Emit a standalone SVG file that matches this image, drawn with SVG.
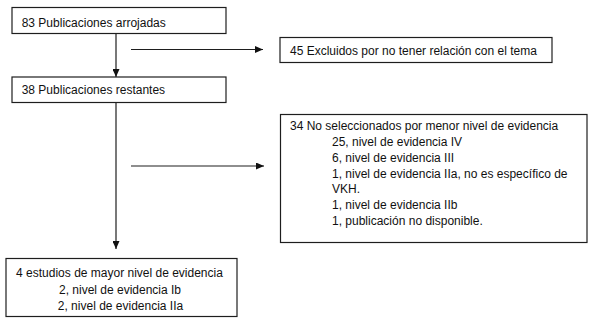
<svg xmlns="http://www.w3.org/2000/svg" width="600" height="324" viewBox="0 0 600 324">
<style>
.box{fill:#fff;stroke:#1e1e1e;stroke-width:1.2}
.t{font-family:"Liberation Sans",Arial,sans-serif;font-size:12px;fill:#111}
.c{text-anchor:middle}
.ln{stroke:#1e1e1e;stroke-width:1.2;fill:none}
</style>
<defs>
<marker id="ah" viewBox="0 0 8 7" refX="8" refY="3.5" markerWidth="8" markerHeight="7" markerUnits="userSpaceOnUse" orient="auto">
<path d="M0,0 L8,3.5 L0,7 Z" fill="#111"/>
</marker>
</defs>
<rect width="600" height="324" fill="#fff"/>
<g id="connectors">
<line class="ln" x1="116" y1="33.5" x2="116" y2="77" marker-end="url(#ah)"/>
<line class="ln" x1="116" y1="102.5" x2="116" y2="249" marker-end="url(#ah)"/>
<line class="ln" x1="131" y1="49.5" x2="263" y2="49.5" marker-end="url(#ah)"/>
<line class="ln" x1="131" y1="166" x2="264" y2="166" marker-end="url(#ah)"/>
</g>
<g id="n83">
<rect class="box" x="12" y="7.5" width="214" height="26"/>
<text class="t" x="21.7" y="27">83 Publicaciones arrojadas</text>
</g>
<g id="n38">
<rect class="box" x="12" y="77" width="214" height="25.5"/>
<text class="t" x="21.7" y="94">38 Publicaciones restantes</text>
</g>
<g id="n45">
<rect class="box" x="280" y="37.5" width="272" height="25"/>
<text class="t" x="290" y="55">45 Excluidos por no tener relación con el tema</text>
</g>
<g id="n34">
<rect class="box" x="280.5" y="114.5" width="306.5" height="128"/>
<text class="t" x="290" y="130">34 No seleccionados por menor nivel de evidencia</text>
<text class="t" x="332" y="146">25, nivel de evidencia IV</text>
<text class="t" x="332" y="161.5">6, nivel de evidencia III</text>
<text class="t" x="332" y="177.5">1, nivel de evidencia IIa, no es específico de</text>
<text class="t" x="332" y="193">VKH.</text>
<text class="t" x="332" y="209">1, nivel de evidencia IIb</text>
<text class="t" x="332" y="224.5">1, publicación no disponible.</text>
</g>
<g id="n4">
<rect class="box" x="6" y="258.5" width="231" height="58"/>
<text class="t c" x="119.5" y="277">4 estudios de mayor nivel de evidencia</text>
<text class="t c" x="120" y="293.5">2, nivel de evidencia Ib</text>
<text class="t c" x="120.5" y="310">2, nivel de evidencia IIa</text>
</g>
</svg>
